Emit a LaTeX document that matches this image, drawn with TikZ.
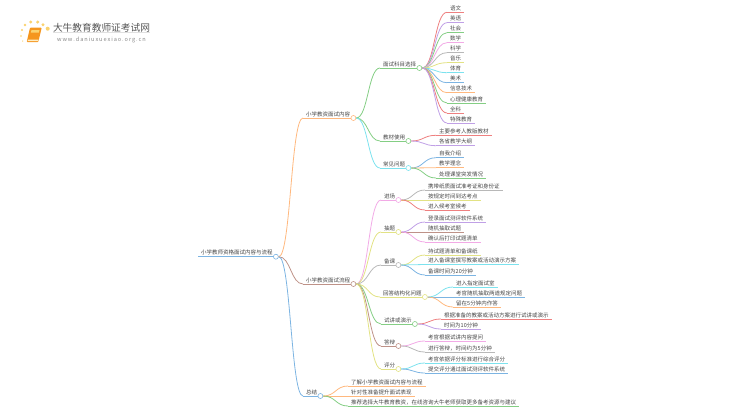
\documentclass[tikz,border=0pt]{standalone}
\usepackage{fontspec}
\setmainfont{Noto Sans CJK SC}
\usetikzlibrary{
    positioning,
    calc
}
\definecolor{mapred}{RGB}{238,128,128}
\definecolor{mappurple}{RGB}{192,160,230}
\definecolor{mapgreen}{RGB}{132,206,132}
\definecolor{mappink}{RGB}{242,170,230}
\definecolor{mapgray}{RGB}{184,184,184}
\definecolor{mapyellow}{RGB}{226,226,132}
\definecolor{mapcyan}{RGB}{124,226,238}
\definecolor{mapblue}{RGB}{124,180,226}
\definecolor{maporange}{RGB}{255,184,126}
\definecolor{mapbrown}{RGB}{190,146,136}
\definecolor{maptext}{RGB}{70,70,70}
\definecolor{logotext}{RGB}{85,85,85}
\definecolor{logogold}{RGB}{250,210,110}
\definecolor{logobook}{RGB}{245,150,30}

% one underlined entry of the map
\newcommand{\mapentry}[5]{
    \node[entry] (#1) at (#2,#3) {#5};
    \draw[mapline,draw=#4] (#1.south west) -- (#1.south east);
}
% ring at the end of an underline
\newcommand{\mapring}[2]{
    \node[ring,draw=#2] (#1ring) at (#1.south east) {};
}
% curve from a ring to the start of an underline
\newcommand{\maplink}[3]{
    \draw[mapline,draw=#1] let \p1=(#2ring.east), \p2=(#3.south west) in
        (\p1) .. controls (\x1/2+\x2/2,\y1) and (\x1/2+\x2/2,\y2) .. (\p2);
}

\begin{document}
\begin{tikzpicture}[
    x=1pt,
    y=-1pt,
    entry/.style={
        anchor=south west,
        font=\fontsize{5.5}{6}\selectfont,
        text=maptext,
        inner xsep=3pt,
        inner ysep=1.2pt
    },
    ring/.style={
        circle,
        fill=white,
        line width=0.6pt,
        minimum size=5pt,
        inner sep=0pt
    },
    mapline/.style={
        line width=0.8pt
    }
]
\useasboundingbox (0,0) rectangle (750,410);

% logo
\foreach \xx/\yy/\size in {25/25/1.3,30.7/22/1.6,37.7/22/1.7,43/24.7/1.7,47.7/28.7/2,22/30/1.1,21/36/0.9,22.7/41/0.7}{
    \fill[logogold] (\xx,\yy) circle (\size);
}
\fill[logobook,rounded corners=0.8pt] (30,27.7) -- (41.7,27.7) -- (38.3,42) -- (26.7,42) -- cycle;
\fill[logogold] (31.5,30) -- (39.5,30) -- (38.8,32.5) -- (30.9,32.5) -- cycle;
\fill[white!60!logogold] (28,39.5) -- (38.6,39.5) -- (38.2,41) -- (27.6,41) -- cycle;
\node[font=\fontsize{9.7}{12}\selectfont,text=logotext,inner sep=0pt] (title) at (101.5,27.5) {大牛教育教师证考试网};
\node[font=\fontsize{5.6}{7}\selectfont,text=logotext!70,inner sep=0pt,below=5pt of title] (site) {w\,w\,w\,.\,d\,a\,n\,i\,u\,x\,u\,e\,x\,i\,a\,o\,.\,o\,r\,g\,.\,c\,n};
\draw[black!12,line width=0.5pt] (title.south west) -- (title.south east);

% root
\mapentry{root}{198}{256.7}{mapblue}{小学教师资格面试内容与流程}
\mapring{root}{mapblue}

\mapentry{neirong}{303}{118}{maporange}{小学教资面试内容}
\maplink{maporange}{root}{neirong}
\mapring{neirong}{maporange}
\mapentry{liucheng}{303}{284}{mapbrown}{小学教资面试流程}
\maplink{mapbrown}{root}{liucheng}
\mapring{liucheng}{mapbrown}
\mapentry{zongjie}{303}{396}{mapblue}{总结}
\maplink{mapblue}{root}{zongjie}
\mapring{zongjie}{mapblue}

% subjects
\mapentry{kemu}{380}{68}{mapgreen}{面试科目选择}
\maplink{mapgreen}{neirong}{kemu}
\mapring{kemu}{mapgreen}
\foreach \name/\yy/\col/\txt in {
    yuwen/12.3/mapred/语文,
    yingyu/22.7/mappurple/英语,
    shehui/32.7/mapgreen/社会,
    shuxue/42.7/mappink/数学,
    kexue/52.7/mapgray/科学,
    yinyue/62.7/mapyellow/音乐,
    tiyu/72.7/mapcyan/体育,
    meishu/82.7/mapblue/美术,
    xinxi/92.7/maporange/信息技术,
    xinli/103/mapgreen/心理健康教育,
    quanke/113/mapred/全科,
    teshu/123/mappurple/特殊教育}{
    \mapentry{\name}{447}{\yy}{\col}{\txt}
    \maplink{\col}{kemu}{\name}
}

% textbooks
\mapentry{jiaocai}{380}{141}{mapgreen}{教材使用}
\maplink{mapgreen}{neirong}{jiaocai}
\mapring{jiaocai}{mapgreen}
\foreach \name/\yy/\col/\txt in {
    renjiao/135.3/mapred/主要参考人教版教材,
    dagang/145.7/mappurple/各省教学大纲}{
    \mapentry{\name}{436}{\yy}{\col}{\txt}
    \maplink{\col}{jiaocai}{\name}
}

% questions
\mapentry{wenti}{380}{168}{mapcyan}{常见问题}
\maplink{mapcyan}{neirong}{wenti}
\mapring{wenti}{mapcyan}
\foreach \name/\yy/\col/\txt in {
    ziwo/157.7/mapblue/自我介绍,
    linian/167.7/maporange/教学理念,
    tufa/178/mapgreen/处理课堂突发情况}{
    \mapentry{\name}{436}{\yy}{\col}{\txt}
    \maplink{\col}{wenti}{\name}
}

% entering
\mapentry{jinchang}{381}{200}{mappink}{进场}
\maplink{mappink}{liucheng}{jinchang}
\mapring{jinchang}{mappink}
\foreach \name/\yy/\col/\txt in {
    xiedai/190/mapgray/携带纸质面试准考证和身份证,
    daoda/200/mapyellow/按规定时间到达考点,
    houkao/210/mapred/进入候考室候考}{
    \mapentry{\name}{425}{\yy}{\col}{\txt}
    \maplink{\col}{jinchang}{\name}
}

% drawing questions
\mapentry{chouti}{381}{232}{mapyellow}{抽题}
\maplink{mapyellow}{liucheng}{chouti}
\mapring{chouti}{mapyellow}
\foreach \name/\yy/\col/\txt in {
    denglu/222/mappurple/登录面试测评软件系统,
    suiji/232/mapbrown/随机抽取试题,
    dayin/242/mappink/确认后打印试题清单}{
    \mapentry{\name}{425}{\yy}{\col}{\txt}
    \maplink{\col}{chouti}{\name}
}

% preparing
\mapentry{beike}{381}{265}{mapgray}{备课}
\maplink{mapgray}{liucheng}{beike}
\mapring{beike}{mapgray}
\foreach \name/\yy/\col/\txt in {
    qingdan/255/mapyellow/持试题清单和备课纸,
    jiaoan/264.5/mapcyan/进入备课室撰写教案或活动演示方案,
    beitime/275/mapblue/备课时间为20分钟}{
    \mapentry{\name}{425}{\yy}{\col}{\txt}
    \maplink{\col}{beike}{\name}
}

% structured questions
\mapentry{huida}{380}{297}{mapyellow}{回答结构化问题}
\maplink{mapyellow}{liucheng}{huida}
\mapring{huida}{mapyellow}
\foreach \name/\yy/\col/\txt in {
    shi/287/mapcyan/进入指定面试室,
    liangdao/297/mapblue/考官随机抽取两道规定问题,
    zuoda/307/maporange/留在5分钟内作答}{
    \mapentry{\name}{453}{\yy}{\col}{\txt}
    \maplink{\col}{huida}{\name}
}

% trial lesson
\mapentry{shijiang}{381}{324}{mapgreen}{试讲或演示}
\maplink{mapgreen}{liucheng}{shijiang}
\mapring{shijiang}{mapgreen}
\foreach \name/\yy/\col/\txt in {
    genju/319/mapred/根据准备的教案或活动方案进行试讲或演示,
    shitime/329/mappurple/时间为10分钟}{
    \mapentry{\name}{441}{\yy}{\col}{\txt}
    \maplink{\col}{shijiang}{\name}
}

% defence
\mapentry{dabian}{381}{346}{mapbrown}{答辩}
\maplink{mapbrown}{liucheng}{dabian}
\mapring{dabian}{mapbrown}
\foreach \name/\yy/\col/\txt in {
    tiwen/341/mappink/考官根据试讲内容提问,
    datime/352/mapgray/{进行答辩，时间约为5分钟}}{
    \mapentry{\name}{425}{\yy}{\col}{\txt}
    \maplink{\col}{dabian}{\name}
}

% scoring
\mapentry{pingfen}{381}{369}{mapyellow}{评分}
\maplink{mapyellow}{liucheng}{pingfen}
\mapring{pingfen}{mapyellow}
\foreach \name/\yy/\col/\txt in {
    zonghe/363/mapcyan/考官依据评分标准进行综合评分,
    tijiao/373/mapblue/提交评分通过面试测评软件系统}{
    \mapentry{\name}{425}{\yy}{\col}{\txt}
    \maplink{\col}{pingfen}{\name}
}

% summary
\foreach \name/\yy/\col/\txt in {
    liaojie/386/maporange/了解小学教资面试内容与流程,
    zhendui/396/maporange/针对性准备提升面试表现,
    tuijian/406/mapgreen/{推荐选择大牛教育教资，在线咨询大牛老师获取更多备考资源与建议}}{
    \mapentry{\name}{348}{\yy}{\col}{\txt}
    \maplink{\col}{zongjie}{\name}
}

\end{tikzpicture}
\end{document}
